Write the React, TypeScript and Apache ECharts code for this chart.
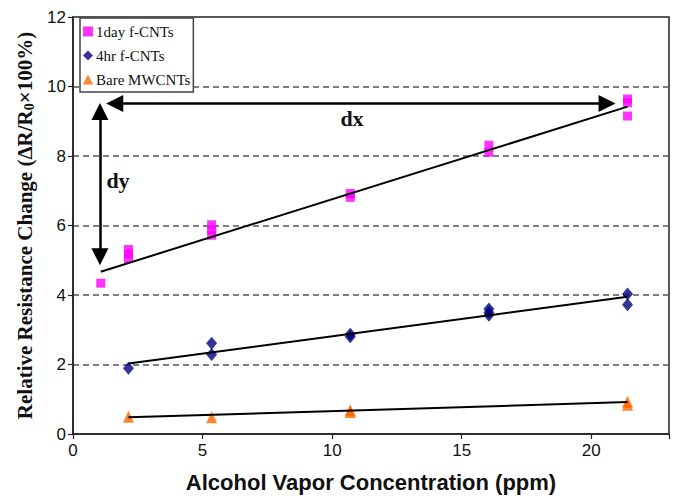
import React, { useEffect, useRef } from "react";
import * as echarts from "echarts";

// Series names
const seriesNames = ["1day f-CNTs", "4hr f-CNTs", "Bare MWCNTs"];

// Measured points [ppm, relative resistance change %]
const day1Points = [
  [1.07, 4.34],
  [2.14, 5.05], [2.14, 5.18], [2.14, 5.31],
  [5.35, 5.72], [5.35, 5.87], [5.35, 6.02],
  [10.7, 6.81], [10.7, 6.92],
  [16.05, 8.11], [16.05, 8.31],
  [21.4, 9.15], [21.4, 9.53], [21.4, 9.64],
];
const hr4Points = [
  [2.14, 1.89],
  [5.35, 2.29], [5.35, 2.61],
  [10.7, 2.8], [10.7, 2.87],
  [16.05, 3.42], [16.05, 3.5], [16.05, 3.6],
  [21.4, 3.72], [21.4, 4.03],
];
const barePoints = [
  [2.14, 0.5],
  [5.35, 0.48],
  [10.7, 0.63], [10.7, 0.68],
  [21.4, 0.84], [21.4, 0.93],
];

// Linear trend line end points
const day1Trend = [[1.07, 4.67], [21.4, 9.42]];
const hr4Trend = [[2.14, 2.03], [21.4, 3.95]];
const bareTrend = [[2.14, 0.48], [21.4, 0.92]];

// Annotation arrows (data coordinates of the shafts)
const dxArrow = [[1.61, 9.51], [20.61, 9.51]];
const dyArrow = [[1.04, 9.28], [1.04, 5.1]];

// Axis ticks
const xTicks = [0, 5, 10, 15, 20];
const yTicks = [0, 2, 4, 6, 8, 10, 12];

const colors = ["#FF00FF", "#000080", "#FF6600"];
const symbols = ["rect", "diamond", "triangle"];

export default function App() {
  const ref = useRef<HTMLDivElement>(null);
  useEffect(() => {
    const chart = echarts.init(ref.current!, null, { renderer: "svg" });
    const serif = "'Liberation Serif', 'Times New Roman', serif";
    const sans = "'Liberation Sans', Arial, sans-serif";
    const trendStyle = { color: "#000", width: 2 };
    chart.setOption({
      animation: false,
      backgroundColor: "#fff",
      grid: {
        left: 73,
        right: 9,
        top: 17,
        bottom: 63,
        show: true,
        borderColor: "#222",
        borderWidth: 1.5,
      },
      legend: {
        orient: "vertical",
        left: 80,
        top: 18,
        data: seriesNames.map((n, i) => ({ name: n, icon: symbols[i] })),
        itemWidth: 10,
        itemHeight: 10,
        itemGap: 9,
        padding: [6, 3, 5, 3],
        borderColor: "#444",
        borderWidth: 1.5,
        backgroundColor: "#fff",
        textStyle: { fontFamily: serif, fontSize: 15, color: "#111", padding: [0, 0, 0, -2] },
        selectedMode: false,
        z: 10,
      },
      xAxis: {
        type: "value",
        min: xTicks[0],
        max: 23,
        interval: 5,
        name: "Alcohol Vapor Concentration (ppm)",
        nameLocation: "middle",
        nameGap: 37,
        nameTextStyle: { fontFamily: sans, fontSize: 22, fontWeight: "bold", color: "#111" },
        axisLine: { show: true, onZero: false, lineStyle: { color: "#222", width: 1.5 } },
        axisTick: { show: true, length: 5, lineStyle: { color: "#222", width: 1.2 } },
        axisLabel: {
          fontFamily: sans,
          fontSize: 17,
          color: "#111",
          margin: 8,
          formatter: (v: number) => (xTicks.indexOf(v) >= 0 ? String(v) : ""),
        },
        splitLine: { show: false },
      },
      yAxis: {
        type: "value",
        min: yTicks[0],
        max: yTicks[yTicks.length - 1],
        interval: 2,
        name: "{a|Relative Resistance Change (ΔR/R}{s|0}{a|×100%)}",
        nameLocation: "middle",
        nameRotate: 90,
        nameGap: 29,
        nameTextStyle: {
          rich: {
            a: { fontFamily: serif, fontSize: 21, fontWeight: "bold", color: "#111" },
            s: { fontFamily: serif, fontSize: 14, fontWeight: "bold", color: "#111", verticalAlign: "bottom", padding: [9, 0, 0, 0] },
          },
        },
        axisLine: { show: true, lineStyle: { color: "#222", width: 1.5 } },
        axisTick: { show: true, length: 5, lineStyle: { color: "#222", width: 1.2 } },
        axisLabel: { fontFamily: sans, fontSize: 17, color: "#111", margin: 7 },
        splitLine: {
          show: true,
          showMinLine: false,
          showMaxLine: false,
          lineStyle: { color: "#555", width: 1.5, type: [6, 4] },
        },
      },
      series: [
        {
          name: seriesNames[0],
          type: "scatter",
          data: day1Points,
          symbol: "rect",
          symbolSize: [9, 9],
          itemStyle: { color: colors[0] },
          z: 3,
        },
        {
          name: seriesNames[1],
          type: "scatter",
          data: hr4Points,
          symbol: "diamond",
          symbolSize: [11, 13],
          itemStyle: { color: colors[1] },
          z: 3,
        },
        {
          name: seriesNames[2],
          type: "scatter",
          data: barePoints,
          symbol: "triangle",
          symbolSize: [11, 12],
          itemStyle: { color: colors[2] },
          z: 3,
        },
        {
          name: "trend1",
          type: "line",
          data: day1Trend,
          showSymbol: false,
          symbol: "none",
          silent: true,
          lineStyle: trendStyle,
          z: 4,
          markLine: {
            silent: true,
            symbol: ["triangle", "triangle"],
            symbolSize: 17,
            lineStyle: { color: "#000", width: 2.5, type: "solid" },
            label: { show: false },
            emphasis: { disabled: true },
            data: [
              [{ coord: dxArrow[0] }, { coord: dxArrow[1] }],
              [{ coord: dyArrow[0] }, { coord: dyArrow[1] }],
            ],
          },
        },
        {
          name: "trend2",
          type: "line",
          data: hr4Trend,
          showSymbol: false,
          symbol: "none",
          silent: true,
          lineStyle: trendStyle,
          z: 4,
        },
        {
          name: "trend3",
          type: "line",
          data: bareTrend,
          showSymbol: false,
          symbol: "none",
          silent: true,
          lineStyle: trendStyle,
          z: 4,
        },
      ],
      graphic: [
        {
          type: "text",
          x: 352,
          y: 118,
          style: { text: "dx", fontFamily: serif, fontSize: 22, fontWeight: "bold", fill: "#111", align: "center", verticalAlign: "middle" },
        },
        {
          type: "text",
          x: 118,
          y: 180,
          style: { text: "dy", fontFamily: serif, fontSize: 22, fontWeight: "bold", fill: "#111", align: "center", verticalAlign: "middle" },
        },
      ],
    });
    return () => chart.dispose();
  }, []);
  return <div ref={ref} style={{ position: "fixed", left: 0, top: 0, width: 678, height: 498 }} />;
}
